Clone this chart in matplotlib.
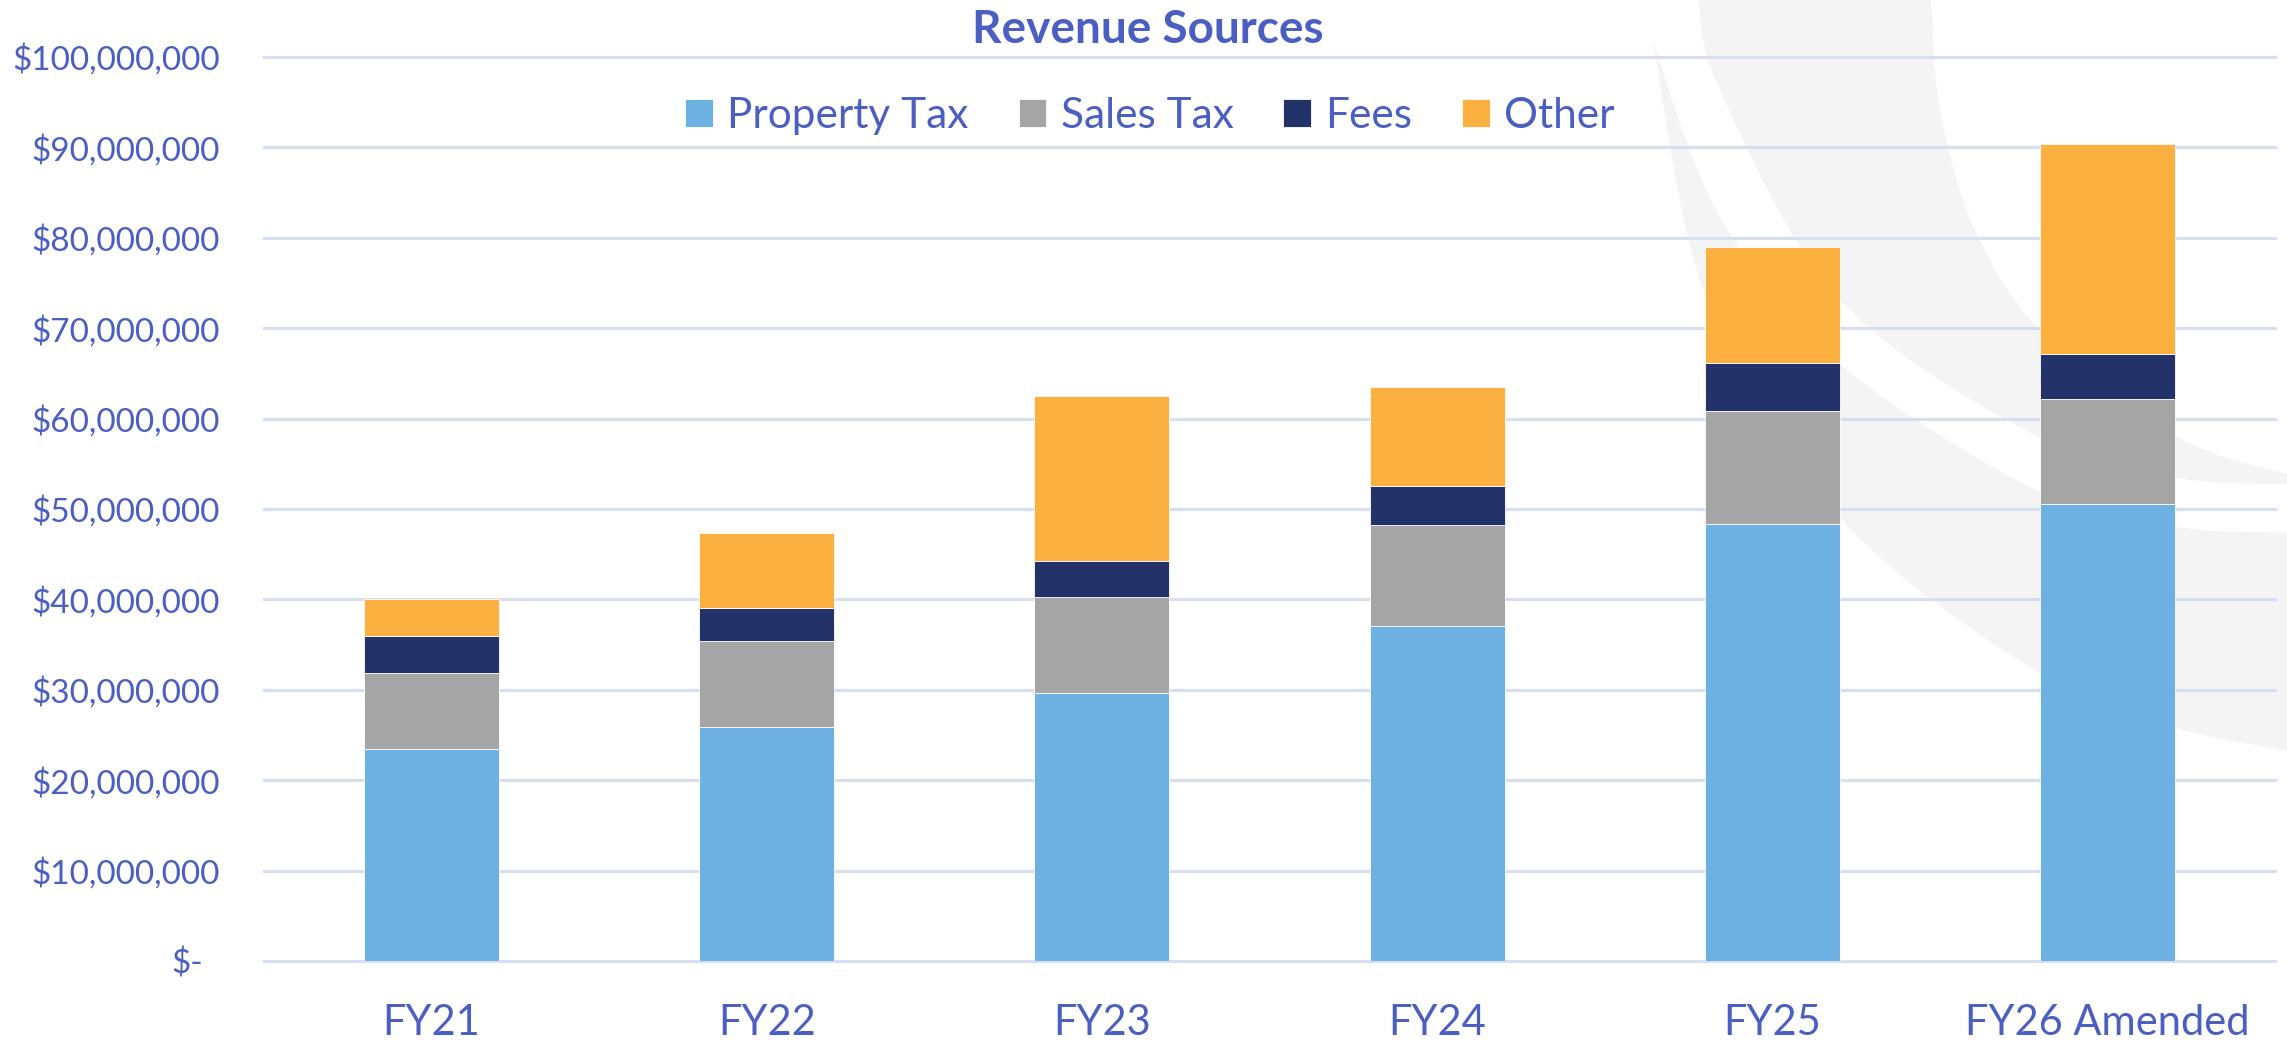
import numpy as np
import matplotlib
matplotlib.use("Agg")
import matplotlib.pyplot as plt
from matplotlib.path import Path
from matplotlib.patches import PathPatch
from matplotlib.transforms import ScaledTranslation

years = ["FY21", "FY22", "FY23", "FY24", "FY25", "FY26 Amended"]
series = ["Property Tax", "Sales Tax", "Fees", "Other"]

property_tax = [23_400_000, 25_900_000, 29_600_000, 37_100_000, 48_300_000, 50_600_000]
sales_tax = [8_500_000, 9_500_000, 10_700_000, 11_100_000, 12_500_000, 11_600_000]
fees = [4_100_000, 3_600_000, 3_900_000, 4_350_000, 5_300_000, 5_000_000]
other = [4_000_000, 8_350_000, 18_300_000, 10_950_000, 12_900_000, 23_200_000]

yticks = list(range(0, 100_000_001, 10_000_000))

colors = ["#6CB1E1", "#A5A5A5", "#233269", "#FBB040"]
text_color = "#4B5FC2"
grid_color = "#D8DEF2"

W, H = 2287, 1041
plt.rcParams["font.family"] = ["Lato", "DejaVu Sans"]

fig = plt.figure(figsize=(W / 100, H / 100), dpi=100)
fig.patch.set_facecolor("white")


# faint watermark arcs in the background (pixel coords, y down)
def smooth(pts):
    pts = np.asarray(pts, float)
    verts, codes = [], []
    for i in range(len(pts) - 1):
        p0 = pts[i - 1] if i > 0 else pts[i]
        p1, p2 = pts[i], pts[i + 1]
        p3 = pts[i + 2] if i + 2 < len(pts) else pts[i + 1]
        verts += [p1 + (p2 - p0) / 6, p2 - (p3 - p1) / 6, p2]
        codes += [Path.CURVE4] * 3
    return verts, codes


def outline(side1, side2):
    verts, codes = [np.array(side1[0], float)], [Path.MOVETO]
    v, c = smooth(side1)
    verts += v; codes += c
    verts.append(np.array(side2[0], float)); codes.append(Path.LINETO)
    v, c = smooth(side2)
    verts += v; codes += c
    verts.append(verts[0]); codes.append(Path.CLOSEPOLY)
    verts = [(x / W, 1 - y / H) for x, y in verts]
    return Path(verts, codes)


arc_a = outline([(1931, -2), (1940, 110), (1975, 230), (2042, 332), (2177, 437), (2295, 476)],
                [(2295, 484), (2177, 478), (2042, 439), (1840, 300), (1720, 90), (1698, -2)])
arc_b = outline([(1653, 42), (1720, 217), (1840, 364), (2042, 493), (2177, 527), (2295, 533)],
                [(2295, 752), (2177, 728), (2042, 675), (1840, 518), (1707, 300), (1653, 42)])
for p in (arc_a, arc_b):
    fig.add_artist(PathPatch(p, facecolor="#F4F4F4", edgecolor="none",
                             transform=fig.transFigure, zorder=0))

ax = fig.add_axes([264 / W, 1 - 961 / H, 2011 / W, 904 / H])
ax.set_facecolor("none")
ax.set_zorder(1)

x = np.arange(len(years))
bottom = np.zeros(len(years))
for name, vals, col in zip(series, [property_tax, sales_tax, fees, other], colors):
    ax.bar(x, vals, width=0.403, bottom=bottom, color=col, label=name,
           edgecolor="white", linewidth=0.6, zorder=3)
    bottom += np.array(vals)

ax.set_xlim(-0.5, len(years) - 0.5)
ax.set_ylim(0, 100_000_000)
ax.set_xticks(x, years)
ylabels = ["$-"] + ["${:,.0f}".format(v) for v in yticks[1:]]
ax.set_yticks(yticks, ylabels)

ax.tick_params(axis="x", length=0, pad=31, labelsize=30, labelcolor=text_color)
ax.tick_params(axis="y", length=0, pad=32, labelsize=24, labelcolor=text_color)

ax.yaxis.grid(True, color=grid_color, linewidth=2.2)
ax.xaxis.grid(False)
ax.set_axisbelow(True)
for gl in ax.get_ygridlines():
    gl.set_clip_on(False)
for s in ax.spines.values():
    s.set_visible(False)

# accounting-style zero label sits a bit left of the others
zero_lbl = ax.yaxis.get_major_ticks()[0].label1
zero_lbl.set_transform(zero_lbl.get_transform() + ScaledTranslation(-0.16, 0, fig.dpi_scale_trans))

fig.text(1147.5 / W, 1 - 43 / H, "Revenue Sources", ha="center", va="baseline",
         fontsize=33, fontweight="bold", color=text_color)

leg = fig.legend(loc="center", bbox_to_anchor=(1150 / W, 1 - 116 / H), ncol=4,
                 frameon=False, fontsize=30.5, handlelength=0.65, handleheight=0.65,
                 handletextpad=0.34, columnspacing=1.18, borderpad=0, borderaxespad=0)
for t in leg.get_texts():
    t.set_color(text_color)

fig.savefig("out.png", dpi=100)
